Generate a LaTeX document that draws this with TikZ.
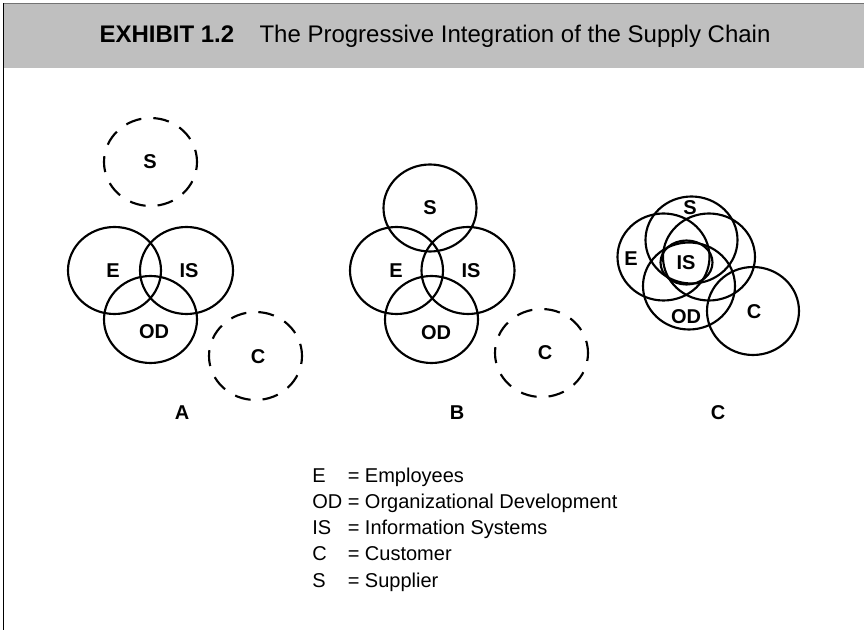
\documentclass[tikz,border=0pt]{standalone}
\usepackage{fontspec}
\setmainfont{Liberation Sans}
\usepackage{tikz}
\usetikzlibrary{positioning}
\tikzset{ring/.style = {line width = 1.6}}
\tikzset{dashring/.style = {ring, dash pattern = on 12pt off 9pt, dash phase = 6pt}}
\tikzset{lbl/.style = {font = \bfseries\fontsize{15}{17}\selectfont, inner sep = 0}}
\tikzset{key/.style = {font = \fontsize{15}{18}\selectfont, inner sep = 0, anchor = base west}}
\definecolor{mgrey}{rgb}{0.75, 0.75, 0.75}
\definecolor{mline}{rgb}{0.45, 0.45, 0.45}
\begin{document}
\begin{tikzpicture}[x = 0.75pt, y = -0.75pt]
      \useasboundingbox (0, 0) rectangle (864, 630);
      \fill [mgrey] (3.5, 4) rectangle (864, 68);
      \draw [line width = 1.2, mline] (3.5, 3.5) -- (864, 3.5);
      \draw [line width = 1.2] (3.5, 3.5) -- (3.5, 630);
      \node (title) [inner sep = 0, font = \fontsize{18}{21}\selectfont] at (435, 36)
        {\textbf{EXHIBIT 1.2}\hspace{19pt}The Progressive Integration of the Supply Chain};
      % A
      \draw [dashring] (150.5, 162) ellipse [x radius = 46.5, y radius = 44];
      \draw [ring] (114.5, 270.5) ellipse [x radius = 46.5, y radius = 43.5];
      \draw [ring] (186.5, 270.5) ellipse [x radius = 46.5, y radius = 43.5];
      \draw [ring] (150.5, 319.5) ellipse [x radius = 46.5, y radius = 43.5];
      \draw [dashring] (255.5, 356) ellipse [x radius = 46.5, y radius = 44];
      \node (aS) [lbl] at (150, 162) {S};
      \node (aE) [lbl] at (113, 270.5) {E};
      \node (aIS) [lbl] at (189, 270.5) {IS};
      \node (aOD) [lbl] at (154, 332) {OD};
      \node (aC) [lbl] at (258, 357) {C};
      \node (aname) [lbl] at (182, 413) {A};
      % B
      \draw [ring] (430, 208) ellipse [x radius = 46.5, y radius = 43.5];
      \draw [ring] (396.5, 270.5) ellipse [x radius = 46.5, y radius = 43.5];
      \draw [ring] (468, 270.5) ellipse [x radius = 46.5, y radius = 43.5];
      \draw [ring] (431.5, 319.5) ellipse [x radius = 46.5, y radius = 43.5];
      \draw [dashring] (541.5, 353) ellipse [x radius = 46.5, y radius = 44];
      \node (bS) [lbl] at (430, 208) {S};
      \node (bE) [lbl] at (396, 270.5) {E};
      \node (bIS) [lbl] at (471, 270.5) {IS};
      \node (bOD) [lbl] at (436, 332.5) {OD};
      \node (bC) [lbl] at (545, 352.5) {C};
      \node (bname) [lbl] at (457, 413) {B};
      % C
      \draw [ring] (691.5, 240) ellipse [x radius = 46, y radius = 43.5];
      \draw [ring] (663.5, 257) ellipse [x radius = 46, y radius = 43.5];
      \draw [ring] (709, 257) ellipse [x radius = 46, y radius = 43.5];
      \draw [ring] (689, 286) ellipse [x radius = 46, y radius = 43.5];
      \draw [ring] (686.5, 262.5) ellipse [x radius = 26, y radius = 22];
      \draw [ring] (753, 311) ellipse [x radius = 46, y radius = 44];
      \node (cS) [lbl] at (690, 208) {S};
      \node (cE) [lbl] at (631, 259) {E};
      \node (cIS) [lbl] at (686, 263) {IS};
      \node (cOD) [lbl] at (686, 316.5) {OD};
      \node (cC) [lbl] at (754, 311.5) {C};
      \node (cname) [lbl] at (718, 413) {C};
      % key
      \node (kE) [key] at (312, 483) {E};
      \node (kOD) [key] at (312, 509) {OD};
      \node (kIS) [key] at (312, 535) {IS};
      \node (kC) [key] at (312, 561) {C};
      \node (kS) [key] at (312, 587) {S};
      \node (tE) [key] at (347.5, 483) {= Employees};
      \node (tOD) [key] at (347.5, 509) {= Organizational Development};
      \node (tIS) [key] at (347.5, 535) {= Information Systems};
      \node (tC) [key] at (347.5, 561) {= Customer};
      \node (tS) [key] at (347.5, 587) {= Supplier};
    \end{tikzpicture}
\end{document}
